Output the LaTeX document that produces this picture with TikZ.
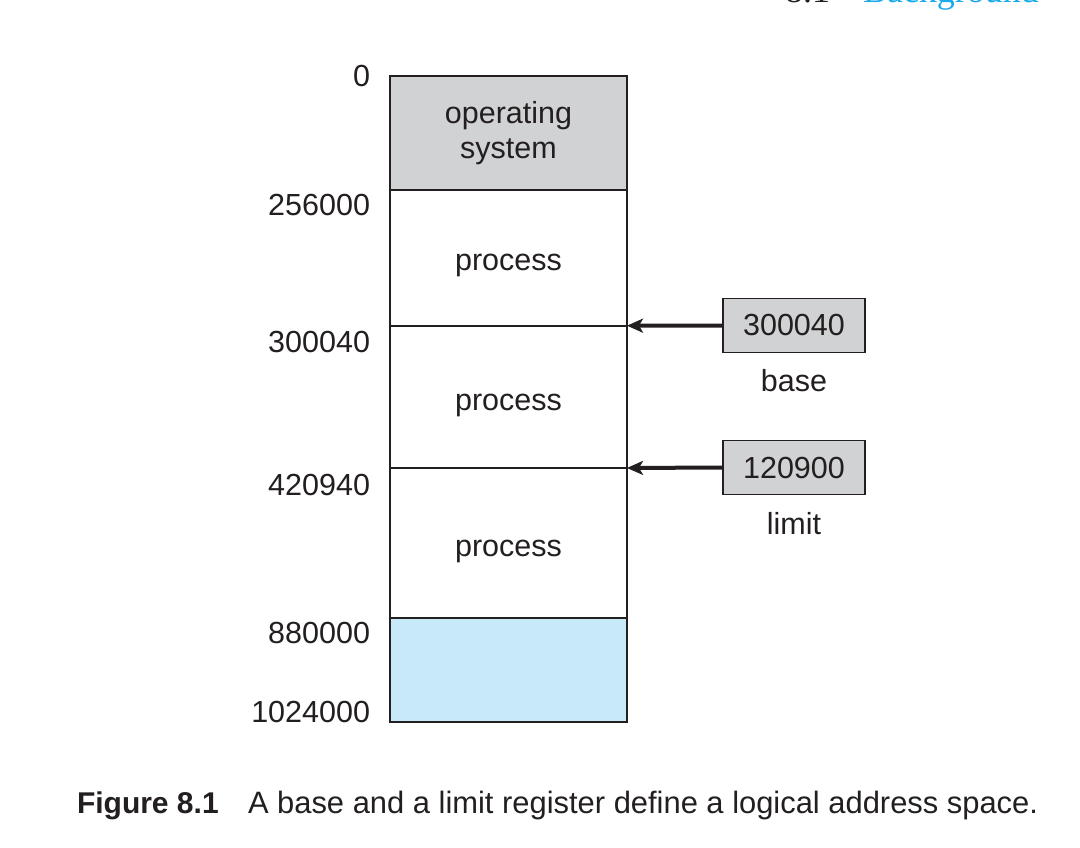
\documentclass[tikz,border=0pt]{standalone}
\usepackage{fontspec}
\setmainfont{Liberation Sans}
\newfontfamily\headserif{Liberation Serif}
\usetikzlibrary{arrows.meta}
\definecolor{osgray}{HTML}{D1D2D4}
\definecolor{freeblue}{HTML}{C7E9F8}
\definecolor{ink}{HTML}{231F20}
\definecolor{headblue}{HTML}{1BAAEC}
\begin{document}
\begin{tikzpicture}[x=1pt,y=-1pt,
  every node/.style={inner sep=0pt, outer sep=0pt, text=ink},
  seg/.style={draw=ink, line width=1.7pt, minimum width=237pt, anchor=north west},
  txt/.style={font=\fontsize{30.5}{35}\selectfont, anchor=base},
  addr/.style={font=\fontsize{30.5}{35}\selectfont, anchor=base east},
  regbox/.style={draw=ink, line width=1.6pt, fill=osgray, minimum width=142pt, minimum height=54pt, font=\fontsize{30.5}{35}\selectfont},
  arr/.style={draw=ink, line width=4pt, -{Stealth[length=16pt, width=14pt, inset=4pt]}},
  captext/.style={font=\fontsize{30.9}{36}\selectfont, anchor=base west}
]
\useasboundingbox (0,0) rectangle (1080,848);
\fill[white] (0,0) rectangle (1080,848);

% header (cut off at the top of the page)
\begin{scope}
  \clip (0,0) rectangle (1080,848);
  \node[anchor=base west, font=\headserif\fontsize{36}{40}\selectfont] (hnum) at (785,3) {8.1};
  \node[anchor=base west, font=\headserif\fontsize{36}{40}\selectfont, text=headblue] (htitle) at (863,3) {Background};
\end{scope}

% memory segments
\node[seg, fill=osgray, minimum height=114.3pt] (os) at (390,75.7) {};
\node[seg, fill=white, minimum height=135.7pt] (p1) at (390,190) {};
\node[seg, fill=white, minimum height=142.3pt] (p2) at (390,325.7) {};
\node[seg, fill=white, minimum height=150pt] (p3) at (390,468) {};
\node[seg, fill=freeblue, minimum height=104pt] (free) at (390,618) {};
\draw[ink, line width=2.2pt] (os.north west) rectangle (free.south east);

% segment texts
\node[txt] (ost1) at (508.5,124) {operating};
\node[txt] (ost2) at (508.5,159) {system};
\node[txt] (pt1) at (508.5,270) {process};
\node[txt] (pt2) at (508.5,410) {process};
\node[txt] (pt3) at (508.5,556) {process};

% addresses
\node[addr] (a0) at (370,87) {0};
\node[addr] (a1) at (370,215) {256000};
\node[addr] (a2) at (370,352) {300040};
\node[addr] (a3) at (370,495) {420940};
\node[addr] (a4) at (370,643) {880000};
\node[addr] (a5) at (370,722) {1024000};

% registers
\node[regbox] (basereg) at (794,325.5) {300040};
\node[regbox] (limitreg) at (794,467.5) {120900};
\node[txt] (basetxt) at (794,391.7) {base};
\node[txt] (limittxt) at (794,534) {limit};

\draw[arr] (basereg.west) -- (p2.north east);
\draw[arr] (limitreg.west) -- (p3.north east);

% caption
\node[captext, font=\bfseries\fontsize{30}{36}\selectfont] (figlbl) at (77,813) {Figure 8.1};
\node[captext] (figtxt) at (248,813) {A base and a limit register define a logical address space.};
\end{tikzpicture}
\end{document}
